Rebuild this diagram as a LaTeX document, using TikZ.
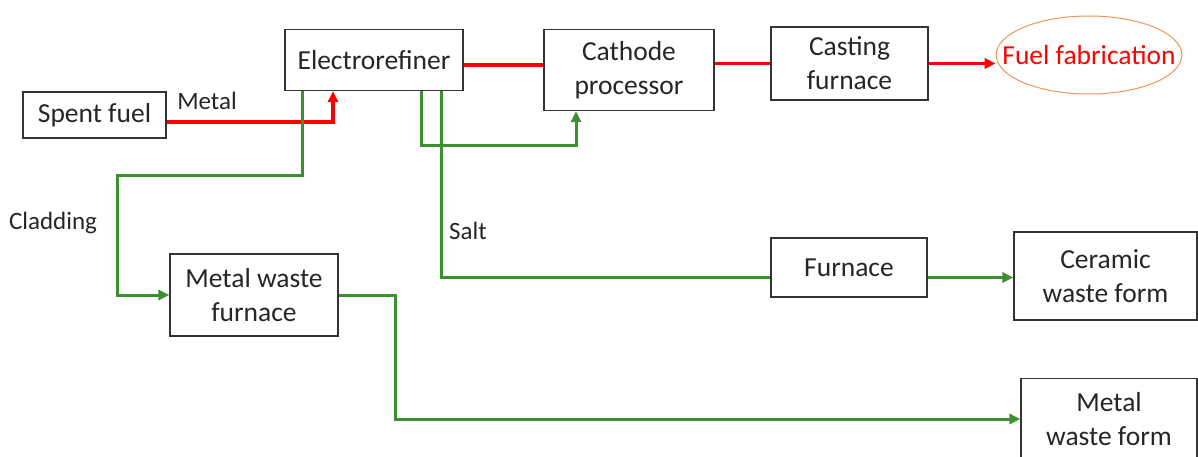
\documentclass[tikz,border=0pt]{standalone}
\usepackage{fontspec}
\setmainfont{Carlito}
\usetikzlibrary{arrows.meta,shapes.geometric}
\definecolor{flowred}{RGB}{255,0,0}
\definecolor{flowgreen}{RGB}{62,142,50}
\definecolor{rimorange}{RGB}{240,150,90}

\begin{document}
\begin{tikzpicture}[x=1pt,y=-1pt,
  unit/.style={draw=black!80,line width=1.2pt,fill=white,inner sep=0pt,
    align=center,text=black!85,font=\fontsize{27.5}{34}\selectfont},
  tag/.style={inner sep=0pt,text=black!85,font=\fontsize{25}{28}\selectfont},
  hot/.style={draw=flowred,line width=3.5pt},
  cold/.style={draw=flowgreen,line width=3pt},
  flowtip/.style={-{Triangle[length=11pt,width=10pt]}}]
  \useasboundingbox (0,0) rectangle (1198,457);

  % Process units.
  \node[unit,minimum width=143,minimum height=46] (spent) at (94.5,115) {Spent fuel};
  \node[unit,minimum width=178,minimum height=61] (refiner) at (374,60) {Electrorefiner};
  \node[unit,minimum width=170,minimum height=81] (cathode) at (629,70) {Cathode\\processor};
  \node[unit,minimum width=157,minimum height=73] (casting) at (849.5,63.5) {Casting\\furnace};
  \node[draw=rimorange,line width=1pt,ellipse,inner xsep=-21pt,inner ysep=0pt,minimum height=78,
    text=flowred,font=\fontsize{27.5}{34}\selectfont] (fab) at (1089,55) {Fuel fabrication};
  \node[unit,minimum width=168,minimum height=82] (mwf) at (254,295) {Metal waste\\furnace};
  \node[unit,minimum width=156,minimum height=59] (furnace) at (849,267.5) {Furnace};
  \node[unit,minimum width=183,minimum height=88] (ceramic) at (1105.5,276) {Ceramic\\waste form};
  \node[unit,minimum width=176,minimum height=80,anchor=north] (metalform) at (1109,378) {Metal\\waste form};

  % Metal route (red).
  \draw[hot,flowtip] ([yshift=-7pt]spent.east) -| ([xshift=-41pt]refiner.south);
  \draw[hot] ([yshift=-5pt]refiner.east) -- ([yshift=-5pt]refiner.east -| cathode.west);
  \draw[hot] (cathode.east |- casting.west) -- (casting.west);
  \draw[hot,flowtip] (casting.east) -- (casting.east -| fab.west);
  \node[tag] (metal) at (207,101) {Metal};

  % Cladding route (green).
  \coordinate (clad) at (117,176);
  \draw[cold,flowtip] ([xshift=18pt]refiner.south west) |- (clad) |- (mwf.west);
  \node[tag] (cladding) at (53,223) {Cladding};

  % Back to the cathode processor.
  \coordinate (join) at (576,146);
  \draw[cold,flowtip] ([xshift=137pt]refiner.south west) |- (join) -- (join |- cathode.south);

  % Salt route.
  \draw[cold] ([xshift=157pt]refiner.south west) |- ([yshift=-10pt]furnace.west);
  \draw[cold,flowtip] ([yshift=-10pt]furnace.east) -- ([yshift=-10pt]furnace.east -| ceramic.west);
  \node[tag] (salt) at (468,231) {Salt};

  % Metal waste route.
  \coordinate (drop) at (395,419);
  \draw[cold,flowtip] (mwf.east) -| (drop) -- (drop -| metalform.west);
\end{tikzpicture}
\end{document}
